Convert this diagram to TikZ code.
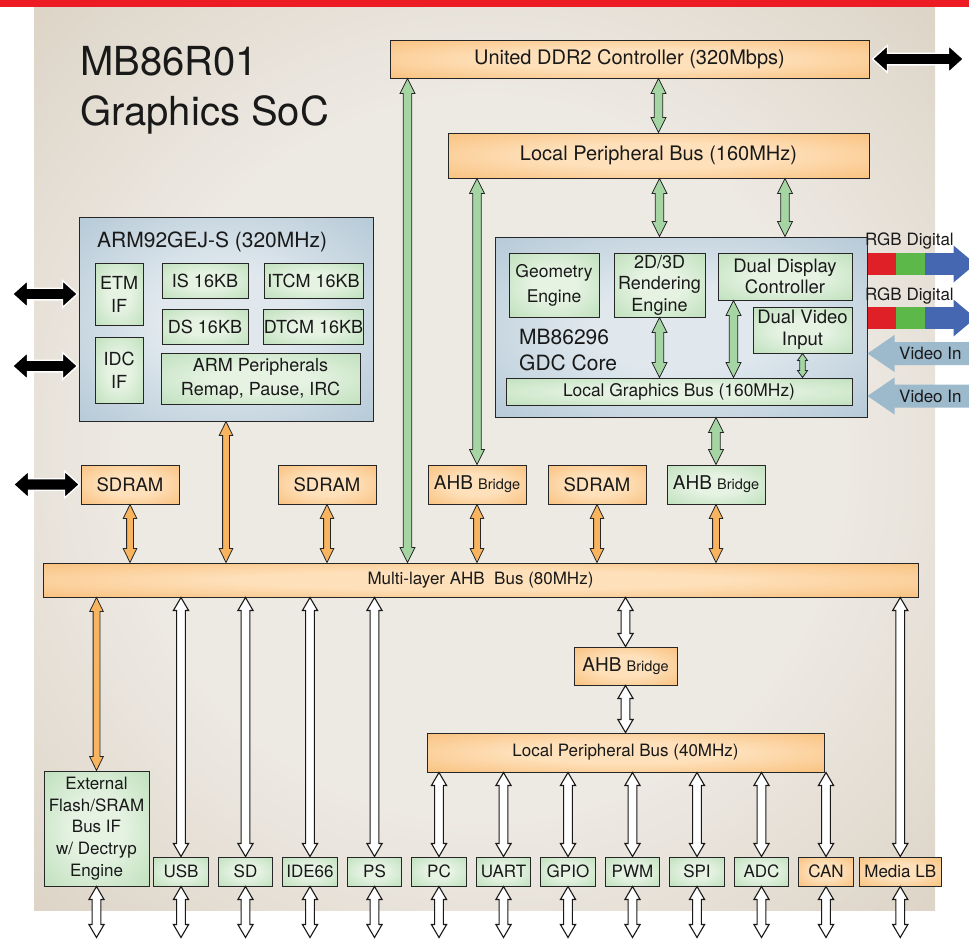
\documentclass[tikz,border=0pt]{standalone}
\usepackage{fontspec}
\setmainfont{TeX Gyre Heros}
\usepackage{tikz}
\usetikzlibrary{positioning,calc}

\definecolor{socred}{HTML}{ED1C24}
\definecolor{panelin}{HTML}{EDE9E3}
\definecolor{panelmid}{HTML}{D8CEBE}
\definecolor{panelout}{HTML}{C1B399}
\definecolor{orin}{HTML}{FEE0BA}
\definecolor{orout}{HTML}{F6AD58}
\definecolor{grin}{HTML}{E6F3E3}
\definecolor{grout}{HTML}{A8D5A5}
\definecolor{blin}{HTML}{E0E8EE}
\definecolor{blout}{HTML}{9CB7C9}
\definecolor{arrowgreen}{HTML}{A6D5A4}
\definecolor{arroworange}{HTML}{F8B45E}
\definecolor{videoblue}{HTML}{9DB9CC}
\definecolor{rgbred}{HTML}{E02027}
\definecolor{rgbgreen}{HTML}{5CB848}
\definecolor{rgbblue}{HTML}{4566B0}

\pgfdeclareradialshading{panelglow}{\pgfpointorigin}{color(0bp)=(panelin); color(20bp)=(panelin); color(40bp)=(panelmid); color(55bp)=(panelout)}
\pgfdeclareradialshading{orglow}{\pgfpointorigin}{color(0bp)=(orin); color(14bp)=(orin); color(50bp)=(orout)}
\pgfdeclareradialshading{grglow}{\pgfpointorigin}{color(0bp)=(grin); color(12bp)=(grin); color(50bp)=(grout)}
\pgfdeclareradialshading{blglow}{\pgfpointorigin}{color(0bp)=(blin); color(12bp)=(blin); color(50bp)=(blout)}

\tikzset{
  fatsize/.code args={#1/#2/#3}{\def\fahw{#1}\def\fahl{#2}\def\fasw{#3}},
  greenbus/.style={fill=arrowgreen, draw=black!85, line width=0.8pt, fatsize=7.5pt/15pt/4.3pt},
  smallbus/.style={greenbus, fatsize=5pt/7pt/2.8pt},
  orangebus/.style={fill=arroworange, draw=black!85, line width=0.8pt, fatsize=6.8pt/14pt/3.4pt},
  whitebus/.style={fill=white, draw=black!90, line width=1.1pt, fatsize=7.6pt/13pt/4.4pt},
  offchip/.style={fill=black, draw=white, line width=1.4pt, fatsize=13.5pt/15pt/5.8pt}
}

\newcommand{\fatarrow}[3]{%
  \path (#2) coordinate (fa-s) (#3) coordinate (fa-e);
  \filldraw[#1, line join=miter]
    (fa-s) -- ($(fa-s)!\fahl!(fa-e)!\fahw!90:(fa-e)$)
    -- ($(fa-s)!\fahl!(fa-e)!\fasw!90:(fa-e)$)
    -- ($(fa-e)!\fahl!(fa-s)!\fasw!-90:(fa-s)$)
    -- ($(fa-e)!\fahl!(fa-s)!\fahw!-90:(fa-s)$)
    -- (fa-e)
    -- ($(fa-e)!\fahl!(fa-s)!\fahw!90:(fa-s)$)
    -- ($(fa-e)!\fahl!(fa-s)!\fasw!90:(fa-s)$)
    -- ($(fa-s)!\fahl!(fa-e)!\fasw!-90:(fa-e)$)
    -- ($(fa-s)!\fahl!(fa-e)!\fahw!-90:(fa-e)$)
    -- cycle;}

\begin{document}
\begin{tikzpicture}[x=1pt, y=-1pt,
    blk/.style={draw=black!85, line width=1pt, shade, inner sep=0pt, align=center, text=black!90},
    orbox/.style={blk, shading=orglow},
    grbox/.style={blk, shading=grglow},
    blbox/.style={blk, shading=blglow},
    txt/.style={inner sep=0pt, text=black!90},
    chip/.style={minimum width=98pt, minimum height=39pt, font=\fontsize{18.5}{22}\selectfont},
    armpart/.style={minimum height=35pt, font=\fontsize{18}{22}\selectfont},
    port/.style={minimum width=54.5pt, minimum height=29pt, font=\fontsize{17}{20}\selectfont}]
  \useasboundingbox (0,0) rectangle (969,938);
  \fill[socred] (0,0) rectangle (969,7);
  \shade[shading=panelglow] (34,7) rectangle (935,910);

  \node[txt, anchor=base west, font=\fontsize{40}{48}\selectfont] (title) at (80,75) {MB86R01};
  \node[txt, anchor=base west, font=\fontsize{40}{48}\selectfont] (subtitle) at (80,125) {Graphics SoC};

  \node[orbox, minimum width=479pt, minimum height=38pt, font=\fontsize{20}{24}\selectfont] (ddr) at (629.5,59) {United DDR2 Controller (320Mbps)};
  \node[orbox, minimum width=421pt, minimum height=45pt, font=\fontsize{20}{24}\selectfont] (lpbfast) at (658.5,155.5) {Local Peripheral Bus (160MHz)};

  \node[blbox, minimum width=294pt, minimum height=204pt] (arm) at (226,319) {};
  \node[txt, anchor=base west, font=\fontsize{21}{25}\selectfont] (armtitle) at (97,247) {ARM92GEJ-S (320MHz)};
  \node[grbox, minimum width=48pt, minimum height=62pt, font=\fontsize{18}{23}\selectfont] (etm) at (119,294) {ETM\\IF};
  \node[grbox, minimum width=48pt, minimum height=66pt, font=\fontsize{18}{23}\selectfont] (idc) at (119,370) {IDC\\IF};
  \node[grbox, armpart, minimum width=86pt] (is) at (205,280.5) {IS 16KB};
  \node[grbox, armpart, minimum width=99pt, right=15pt of is] (itcm) {ITCM 16KB};
  \node[grbox, armpart, minimum width=86pt, below=10pt of is] (ds) {DS 16KB};
  \node[grbox, armpart, minimum width=99pt, below=10pt of itcm] (dtcm) {DTCM 16KB};
  \node[grbox, minimum width=199pt, minimum height=51pt, font=\fontsize{18}{24}\selectfont] (armper) at (260.5,378.5) {ARM Peripherals\\Remap, Pause, IRC};

  \node[blbox, minimum width=372pt, minimum height=180pt] (gdc) at (681,327) {};
  \node[grbox, minimum width=90pt, minimum height=64pt, font=\fontsize{17.5}{25}\selectfont] (geo) at (554,285) {Geometry\\Engine};
  \node[grbox, minimum width=91pt, minimum height=64pt, font=\fontsize{18}{21.5}\selectfont, right=14pt of geo] (rend) {2D/3D\\Rendering\\Engine};
  \node[grbox, minimum width=134pt, minimum height=47pt, font=\fontsize{18.5}{21}\selectfont] (ddc) at (785,276.5) {Dual Display\\Controller};
  \node[grbox, minimum width=99pt, minimum height=46pt, font=\fontsize{18.5}{22}\selectfont] (dvi) at (802.5,330) {Dual Video\\Input};
  \node[txt, align=left, anchor=west, font=\fontsize{21}{26}\selectfont] (gdccore) at (519,350) {MB86296\\GDC Core};
  \node[grbox, minimum width=346pt, minimum height=27pt, font=\fontsize{17.4}{20}\selectfont] (lgb) at (679,391.5) {Local Graphics Bus (160MHz)};

  \node[orbox, chip] (sdram1) at (130,484.5) {SDRAM};
  \node[orbox, chip] (sdram2) at (327,484.5) {SDRAM};
  \node[orbox, chip, font=\fontsize{19}{22}\selectfont] (ahb1) at (477,484.5) {AHB {\fontsize{14.5}{16}\selectfont Bridge}};
  \node[orbox, chip] (sdram3) at (597,484.5) {SDRAM};
  \node[grbox, chip, font=\fontsize{19}{22}\selectfont] (ahb2) at (716,484.5) {AHB {\fontsize{14.5}{16}\selectfont Bridge}};

  \node[orbox, minimum width=875pt, minimum height=34pt, font=\fontsize{17}{20}\selectfont] (bus) at (480.5,580) {Multi-layer AHB\ \ Bus (80MHz)};
  \node[orbox, minimum width=103pt, minimum height=38pt, font=\fontsize{19}{22}\selectfont] (ahb3) at (625.5,666) {AHB {\fontsize{14.5}{16}\selectfont Bridge}};
  \node[orbox, minimum width=397pt, minimum height=39pt, font=\fontsize{17}{20}\selectfont] (lpbslow) at (625.5,752.5) {Local Peripheral Bus (40MHz)};

  \node[grbox, minimum width=105pt, minimum height=115pt, font=\fontsize{17}{21.7}\selectfont] (ext) at (96.5,828.5) {External\\Flash/SRAM\\Bus IF\\w/ Dectryp\\Engine};
  \node[grbox, port] (usb) at (181,871.5) {USB};
  \node[grbox, port, right=9pt of usb] (sd) {SD};
  \node[grbox, port, right=9pt of sd] (ide) {IDE66};
  \node[grbox, port, right=9pt of ide] (ps) {PS};
  \node[grbox, port, right=9pt of ps] (pc) {PC};
  \node[grbox, port, right=9pt of pc] (uart) {UART};
  \node[grbox, port, right=9pt of uart] (gpio) {GPIO};
  \node[grbox, port, right=9pt of gpio] (pwm) {PWM};
  \node[grbox, port, right=9pt of pwm] (spi) {SPI};
  \node[grbox, port, right=9pt of spi] (adc) {ADC};
  \node[orbox, port, right=9pt of adc] (can) {CAN};
  \node[orbox, port, minimum width=82pt, right=5pt of can] (medialb) {Media LB};

  \fatarrow{greenbus}{ddr.south -| lpbfast.north}{lpbfast.north}
  \fatarrow{greenbus}{$(ddr.south west)+(18,0)$}{$(bus.north west)+(365,0)$}
  \fatarrow{greenbus}{lpbfast.south -| ahb1.north}{ahb1.north}
  \fatarrow{greenbus}{lpbfast.south -| rend.north}{gdc.north -| rend.north}
  \fatarrow{greenbus}{lpbfast.south -| ddc.north}{gdc.north -| ddc.north}
  \fatarrow{greenbus}{gdc.south -| ahb2.north}{ahb2.north}
  \fatarrow{greenbus}{rend.south}{lgb.north -| rend.south}
  \coordinate (ddcport) at ($(ddc.south west)+(16,0)$);
  \fatarrow{greenbus}{ddcport}{lgb.north -| ddcport}
  \fatarrow{smallbus}{dvi.south}{lgb.north -| dvi.south}

  \foreach \n in {sdram1, sdram2, ahb1, sdram3, ahb2, arm}{\fatarrow{orangebus}{\n.south}{bus.north -| \n.south}}
  \fatarrow{orangebus}{bus.south -| ext.north}{ext.north}

  \foreach \n in {usb, sd, ide, ps, medialb}{\fatarrow{whitebus}{bus.south -| \n.north}{\n.north}}
  \fatarrow{whitebus}{bus.south -| ahb3.north}{ahb3.north}
  \fatarrow{whitebus}{ahb3.south}{lpbslow.north -| ahb3.south}
  \foreach \n in {pc, uart, gpio, pwm, spi, adc, can}{\fatarrow{whitebus}{lpbslow.south -| \n.north}{\n.north}}
  \foreach \n in {ext, usb, sd, ide, ps, pc, uart, gpio, pwm, spi, adc, can, medialb}{\fatarrow{whitebus}{\n.south}{$(\n.south)+(0,51)$}}

  \fatarrow{offchip}{$(ddr.east)+(3,0)$}{$(ddr.east)+(94,0)$}
  \fatarrow{offchip}{$(arm.west |- etm)+(-1,0)$}{$(arm.west |- etm)+(-66,0)$}
  \fatarrow{offchip}{$(arm.west |- idc)+(-1,-4)$}{$(arm.west |- idc)+(-66,-4)$}
  \fatarrow{offchip}{$(sdram1.west)+(-1,0)$}{$(sdram1.west)+(-67,0)$}

  \foreach \k/\yy/\ty in {1/264/245, 2/318/300}{
    \coordinate (rgbout\k) at (969,\yy);
    \fill[rgbred] (gdc.east |- rgbout\k) ++(0,-11) rectangle ++(28,22);
    \fill[rgbgreen] (gdc.east |- rgbout\k) ++(28,-11) rectangle ++(29,22);
    \fill[rgbblue] (gdc.east |- rgbout\k) ++(57,-11) rectangle ++(29.5,22);
    \fill[rgbblue] (gdc.east |- rgbout\k) ++(86,-18.5) -- ++(22,18.5) -- ++(-22,18.5) -- cycle;
    \node[txt, anchor=base west, font=\fontsize{17}{20}\selectfont] (rgbtext\k) at (865,\ty) {RGB Digital};
  }
  \foreach \k/\yy in {1/353.5, 2/396}{
    \coordinate (vidsrc\k) at (969,\yy);
    \fill[videoblue] (gdc.east |- vidsrc\k) -- ++(27,-18.5) -- ++(0,7) -- ($(vidsrc\k)+(0,-11.5)$)
      -- ($(vidsrc\k)+(0,11.5)$) -- ($(gdc.east |- vidsrc\k)+(27,11.5)$) -- ++(0,7) -- cycle;
    \node[txt, anchor=base west, font=\fontsize{17}{20}\selectfont] (vidtext\k) at ($(vidsrc\k)+(-70,6)$) {Video In};
  }
\end{tikzpicture}
\end{document}
